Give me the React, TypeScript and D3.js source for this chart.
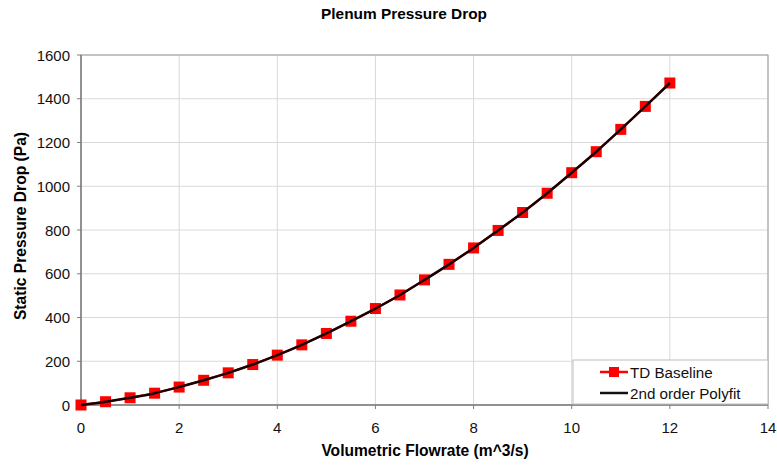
import React from "react";
import * as d3 from "d3";

const flowrate = [0, 0.5, 1, 1.5, 2, 2.5, 3, 3.5, 4, 4.5, 5, 5.5, 6, 6.5, 7, 7.5, 8, 8.5, 9, 9.5, 10, 10.5, 11, 11.5, 12];
const pressure = [0, 15, 33, 54, 82, 113, 147, 185, 228, 275, 327, 383, 441, 503, 572, 643, 718, 798, 880, 968, 1062, 1158, 1260, 1365, 1472];
const xTicks = [0, 2, 4, 6, 8, 10, 12, 14];
const yTicks = [0, 200, 400, 600, 800, 1000, 1200, 1400, 1600];
const seriesNames = ["TD Baseline", "2nd order Polyfit"];

const W = 777, H = 466;
const M = { left: 81, right: 9, top: 55, bottom: 61 };

export default function App() {
  const x = d3.scaleLinear().domain([0, 14]).range([M.left, W - M.right]);
  const y = d3.scaleLinear().domain([0, 1600]).range([H - M.bottom, M.top]);
  const pts = flowrate.map((f, i) => [f, pressure[i]] as [number, number]);
  const straight = d3.line<[number, number]>().x(d => x(d[0])).y(d => y(d[1]));
  const smooth = d3.line<[number, number]>().x(d => x(d[0])).y(d => y(d[1])).curve(d3.curveCatmullRom);
  const font = "'Liberation Sans', Arial, Helvetica, sans-serif";
  const x0 = x(0), x1 = x(14), y0 = y(0), y1 = y(1600);
  const lx = 573, ly = 360;
  return (
    <svg width={W} height={H} style={{ position: "absolute", left: 0, top: 0, background: "#fff" }} fontFamily={font}>
      <rect x={0} y={0} width={W} height={H} fill="#fff" />
      <text x={404} y={19} textAnchor="middle" fontWeight="bold" fontSize={15.4}>Plenum Pressure Drop</text>
      {xTicks.map(t => (
        <line key={"gx" + t} x1={x(t)} x2={x(t)} y1={y0} y2={y1} stroke="#d9d9d9" strokeWidth={1} />
      ))}
      {yTicks.map(t => (
        <line key={"gy" + t} x1={x0} x2={x1} y1={y(t)} y2={y(t)} stroke="#d9d9d9" strokeWidth={1} />
      ))}
      <rect x={x0} y={y1} width={x1 - x0} height={y0 - y1} fill="none" stroke="#9a9a9a" strokeWidth={1} />
      <line x1={x0} x2={x0} y1={y1} y2={y0} stroke="#808080" strokeWidth={1.5} />
      <line x1={x0} x2={x1} y1={y0} y2={y0} stroke="#808080" strokeWidth={1.5} />
      {xTicks.map(t => (
        <g key={"tx" + t}>
          <line x1={x(t)} x2={x(t)} y1={y0} y2={y0 + 4} stroke="#808080" />
          <text x={x(t)} y={y0 + 28} textAnchor="middle" fontSize={15} fill="#111">{t}</text>
        </g>
      ))}
      {yTicks.map(t => (
        <g key={"ty" + t}>
          <line x1={x0 - 4} x2={x0} y1={y(t)} y2={y(t)} stroke="#808080" />
          <text x={x0 - 11} y={y(t) + 5.5} textAnchor="end" fontSize={15} fill="#111">{t}</text>
        </g>
      ))}
      <text x={425} y={456} textAnchor="middle" fontWeight="bold" fontSize={15.6}>Volumetric Flowrate (m^3/s)</text>
      <text transform={`translate(26,226) rotate(-90)`} textAnchor="middle" fontWeight="bold" fontSize={15.6}>Static Pressure Drop (Pa)</text>
      <path d={straight(pts) || ""} fill="none" stroke="#ff0000" strokeWidth={2} />
      {pts.map((p, i) => (
        <rect key={"m" + i} x={x(p[0]) - 5.5} y={y(p[1]) - 5.5} width={11} height={11} fill="#ff0000" />
      ))}
      <path d={smooth(pts) || ""} fill="none" stroke="#1a0000" strokeWidth={2.5} />
      <rect x={lx} y={ly} width={x1 - lx} height={y0 - ly - 1} fill="#fff" stroke="#bdbdbd" strokeWidth={1} />
      <line x1={lx + 27} x2={lx + 55} y1={ly + 12} y2={ly + 12} stroke="#ff0000" strokeWidth={2.5} />
      <rect x={lx + 36} y={ly + 7} width={10} height={10} fill="#ff0000" />
      <text x={lx + 57} y={ly + 17.5} fontSize={15.2} fill="#111">{seriesNames[0]}</text>
      <line x1={lx + 27} x2={lx + 55} y1={ly + 33} y2={ly + 33} stroke="#111" strokeWidth={2.5} />
      <text x={lx + 57} y={ly + 38.5} fontSize={15.2} fill="#111">{seriesNames[1]}</text>
    </svg>
  );
}
